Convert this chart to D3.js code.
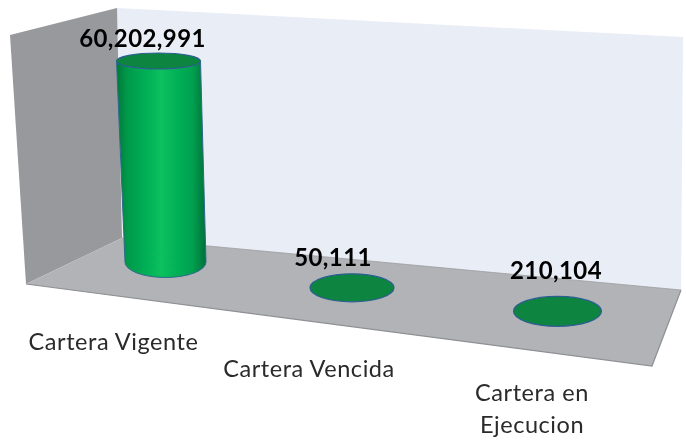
<!DOCTYPE html>
<html><head><meta charset="utf-8">
<script src="https://cdnjs.cloudflare.com/ajax/libs/d3/7.8.5/d3.min.js"></script>
<style>html,body{margin:0;padding:0;background:#fff}svg{display:block}</style></head>
<body><div id="c"></div>
<script>
const categories = ["Cartera Vigente","Cartera Vencida","Cartera en Ejecucion"];
const values = [60202991,50111,210104];
const valueLabels = ["60,202,991","50,111","210,104"];
const W=686,H=445;
const svg=d3.select("#c").append("svg").attr("width",W).attr("height",H);
const defs=svg.append("defs");
const g=defs.append("linearGradient").attr("id","cyl").attr("x1",0).attr("x2",1).attr("y1",0).attr("y2",0);
[[0,"#02783a"],[0.12,"#04994b"],[0.5,"#07c15f"],[0.85,"#05a04f"],[1,"#02703a"]].forEach(s=>g.append("stop").attr("offset",s[0]).attr("stop-color",s[1]));
const f=defs.append("filter").attr("id","soft").attr("x","-5%").attr("y","-5%").attr("width","110%").attr("height","110%");
f.append("feGaussianBlur").attr("stdDeviation",0.45);
const ft=defs.append("filter").attr("id","softText").attr("x","-5%").attr("y","-10%").attr("width","110%").attr("height","120%");
ft.append("feGaussianBlur").attr("stdDeviation",0.35);

const poly=(pts,fill,stroke)=>svg.append("path").attr("d",d3.line()(pts)+"Z").attr("fill",fill).attr("stroke",stroke||"none").attr("stroke-width",1);
poly([[117,8],[683,37],[681,290],[122,238]],"#e9edf6");
poly([[10,35],[117,8],[122,238],[26,284]],"#97999d");
poly([[26,284],[122,238],[681,290],[652,366]],"#b1b3b7","none");
svg.append("path").attr("d",d3.line()([[26,284],[652,366],[681,290]])).attr("fill","none").attr("stroke","#8e9094").attr("stroke-width",1.2);
svg.append("path").attr("d",d3.line()([[122,238],[681,290]])).attr("fill","none").attr("stroke","#9a9ca0").attr("stroke-width",0.8);

const idx=[0,1,2];
const bx=d3.scaleLinear().domain(idx).range([165.5,352,557.5]);
const by=d3.scaleLinear().domain(idx).range([262,288,312]);
const rxS=d3.scaleLinear().domain(idx).range([40.5,42,44]);
const ryS=d3.scaleLinear().domain(idx).range([15.5,14,15]);
const h=d3.scaleLinear().domain([0,60202991]).range([0,201]);
const lean=d3.scaleLinear().domain([0,60202991]).range([0,-7]);

const root=svg.append("g").attr("filter","url(#soft)");
values.forEach((v,i)=>{
  const x0=bx(i),y0=by(i),rx=rxS(i),ry=ryS(i);
  const x1=x0+lean(v),y1=y0-h(v);
  const rxT=rx+(v>1e6?1.5:0), ryT=v>1e6?8:ry;
  if(v>1e6){
    root.append("path")
      .attr("d",`M${x1-rxT},${y1}L${x0-rx},${y0}A${rx},${ry} 0 0 0 ${x0+rx},${y0}L${x1+rxT},${y1}Z`)
      .attr("fill","url(#cyl)").attr("stroke","#2e6a8c").attr("stroke-width",1);
  }
  root.append("ellipse").attr("cx",x1).attr("cy",y1).attr("rx",rxT).attr("ry",ryT)
    .attr("fill","#07843f").attr("stroke","#2f5f92").attr("stroke-width",1.2);
});

const txt=svg.append("g").attr("filter","url(#softText)");
const labelPos=[[142.5,47],[333,266],[556,279]];
txt.selectAll(".v").data(valueLabels).join("text").attr("class","v")
  .attr("x",(d,i)=>labelPos[i][0]).attr("y",(d,i)=>labelPos[i][1])
  .attr("text-anchor","middle").attr("font-family","Lato, 'Open Sans', sans-serif")
  .attr("font-weight",700).attr("font-size",24).attr("letter-spacing",0.4).attr("fill","#050505").text(d=>d);

const catPos=[[113.5,[350]],[309,[376.5]],[532,[400.5,432.5]]];
const catLines=[["Cartera Vigente"],["Cartera Vencida"],["Cartera en","Ejecucion"]];
catLines.forEach((ls,i)=>ls.forEach((t,j)=>{
  txt.append("text").attr("x",catPos[i][0]).attr("y",catPos[i][1][j])
   .attr("text-anchor","middle").attr("font-family","Lato, 'Open Sans', sans-serif")
   .attr("font-size",23.5).attr("letter-spacing",0.55).attr("fill","#2a2a2a").text(t);
}));
</script></body></html>
